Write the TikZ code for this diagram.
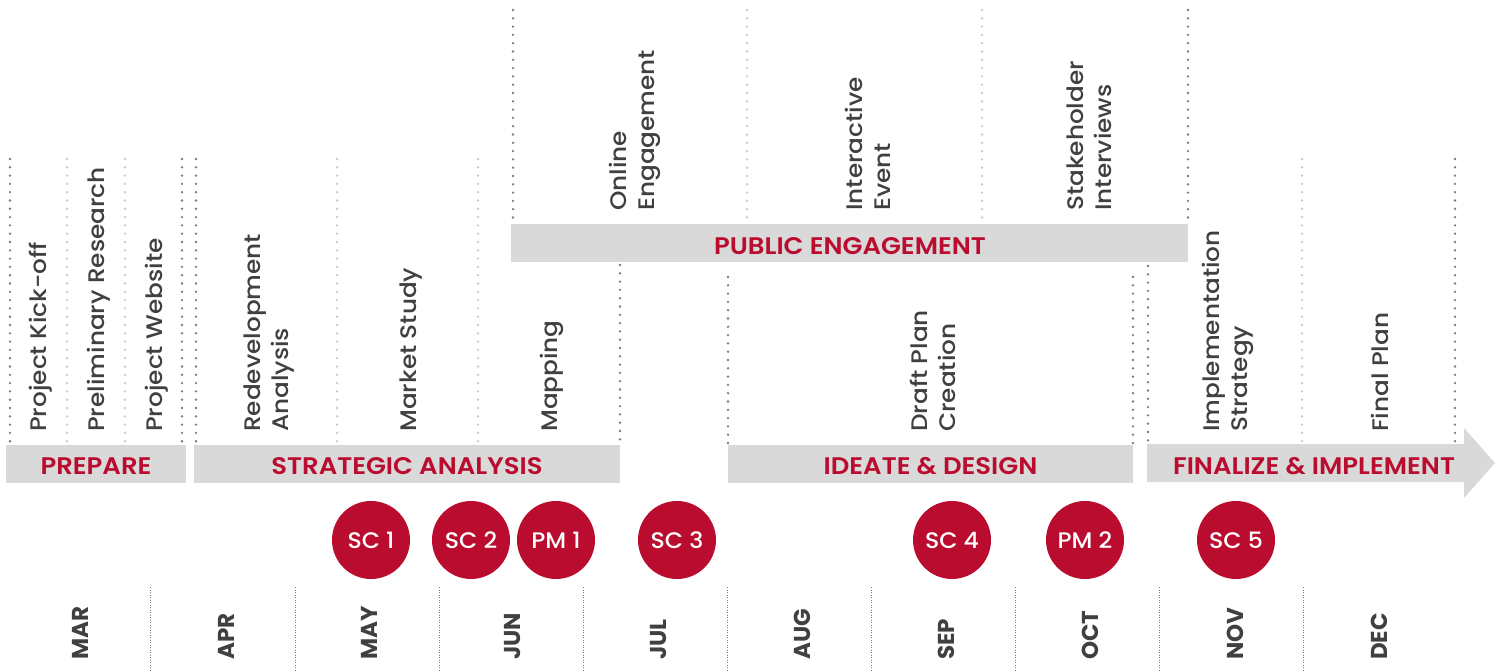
\documentclass[tikz,border=0pt]{standalone}
\usepackage{fontspec}
\setmainfont{Poppins}
\newfontfamily\taskfont{Poppins Medium}[FakeStretch=1.1]
\newfontfamily\phasefont{Poppins SemiBold}[FakeStretch=1.08]
\newfontfamily\monthfont{Poppins Bold}
\newfontfamily\circfont{Poppins Medium}[FakeStretch=1.05]
\definecolor{brandred}{HTML}{BA0C2F}
\definecolor{bargray}{HTML}{D9D9D9}
\definecolor{textgray}{HTML}{404040}
\definecolor{dotdark}{HTML}{7A7A7A}
\definecolor{dotlight}{HTML}{C8C8C8}
\begin{document}
\begin{tikzpicture}[x=1pt,y=-1pt,
  darkdot/.style={draw=dotdark, line width=2.6pt, line cap=round, dash pattern=on 0pt off 8.3pt},
  lightdot/.style={draw=dotlight, line width=2.6pt, line cap=round, dash pattern=on 0pt off 8.3pt},
  monthsep/.style={draw=dotdark, line width=0.9pt, dash pattern=on 1pt off 1.5pt},
  bar/.style={fill=bargray, draw=none, inner sep=0pt, minimum height=38pt},
  phase/.style={text=brandred, font=\phasefont\fontsize{24}{28}\selectfont, inner sep=0pt},
  task/.style={rotate=90, anchor=west, align=left, text=textgray, font=\taskfont\fontsize{22.5}{28}\selectfont, inner sep=0pt},
  month/.style={rotate=90, anchor=west, text=textgray, font=\monthfont\fontsize{23}{28}\selectfont, inner sep=0pt},
  meet/.style={circle, fill=brandred, minimum size=78pt, inner sep=0pt, text=white, font=\circfont\fontsize{22.5}{26}\selectfont}]
\useasboundingbox (0,0) rectangle (1504,671);

% dotted guide lines
\draw[darkdot] (10,159) -- (10,444);
\draw[lightdot] (67,159) -- (67,444);
\draw[lightdot] (125,159) -- (125,444);
\draw[darkdot] (182,159) -- (182,444);
\draw[darkdot] (196,159) -- (196,444);
\draw[lightdot] (337,159) -- (337,444);
\draw[lightdot] (478,159) -- (478,444);
\draw[darkdot] (620,265) -- (620,444);
\draw[darkdot] (513,10) -- (513,223);
\draw[lightdot] (747,10) -- (747,223);
\draw[lightdot] (982,10) -- (982,223);
\draw[darkdot] (1188,10) -- (1188,223);
\draw[darkdot] (728,277) -- (728,444);
\draw[darkdot] (1133,277) -- (1133,444);
\draw[darkdot] (1148,266) -- (1148,444);
\draw[lightdot] (1302,159) -- (1302,444);
\draw[darkdot] (1455,159) -- (1455,444);

% phase bars
\node[bar, minimum width=180pt] (prepbar) at (96,463.5) {};
\node[bar, minimum width=426pt] (stratbar) at (407,463.5) {};
\node[bar, minimum width=405pt] (ideabar) at (930.5,463.5) {};
\node[bar, minimum width=677pt] (pubbar) at (849.5,243) {};
\fill[bargray] (1147,444) -- (1464,444) -- (1464,428) -- (1495,463) -- (1464,498) -- (1464,482) -- (1147,482) -- cycle;

\node[phase] (prep) at (96,466.5) {PREPARE};
\node[phase] (strat) at (407,466.5) {STRATEGIC ANALYSIS};
\node[phase] (idea) at (930.5,466.5) {IDEATE \& DESIGN};
\node[phase] (fin) at (1314,466.5) {FINALIZE \& IMPLEMENT};
\node[phase] (pub) at (850,246) {PUBLIC ENGAGEMENT};

% tasks
\node[task] (t1) at (41,432) {Project Kick-off};
\node[task] (t2) at (99,432) {Preliminary Research};
\node[task] (t3) at (157,432) {Project Website};
\node[task] (t4) at (269,432) {Redevelopment\\Analysis};
\node[task] (t5) at (411,432) {Market Study};
\node[task] (t6) at (552,432) {Mapping};
\node[task] (t7) at (635,211) {Online\\Engagement};
\node[task] (t8) at (868,211) {Interactive\\Event};
\node[task] (t9) at (1089,211) {Stakeholder\\Interviews};
\node[task] (t10) at (933,432) {Draft Plan\\Creation};
\node[task] (t11) at (1228,432) {Implementation\\Strategy};
\node[task] (t12) at (1380,432) {Final Plan};

% meetings
\node[meet] (sc1) at (371,540) {SC 1};
\node[meet] (sc2) at (471,540) {SC 2};
\node[meet] (pm1) at (556,540) {PM 1};
\node[meet] (sc3) at (677,540) {SC 3};
\node[meet] (sc4) at (952,540) {SC 4};
\node[meet] (pm2) at (1085,540) {PM 2};
\node[meet] (sc5) at (1236,540) {SC 5};

% month separators
\foreach \mx in {150,295,439,583,727,871,1015,1159,1303}
  \draw[monthsep] (\mx,587) -- (\mx,671);

% months
\node[month] (mar) at (80,660) {MAR};
\node[month] (apr) at (226,660) {APR};
\node[month] (may) at (369,660) {MAY};
\node[month] (jun) at (513,660) {JUN};
\node[month] (jul) at (658,660) {JUL};
\node[month] (aug) at (802,660) {AUG};
\node[month] (sep) at (946,660) {SEP};
\node[month] (oct) at (1090,660) {OCT};
\node[month] (nov) at (1235,660) {NOV};
\node[month] (dec) at (1379,660) {DEC};
\end{tikzpicture}
\end{document}
